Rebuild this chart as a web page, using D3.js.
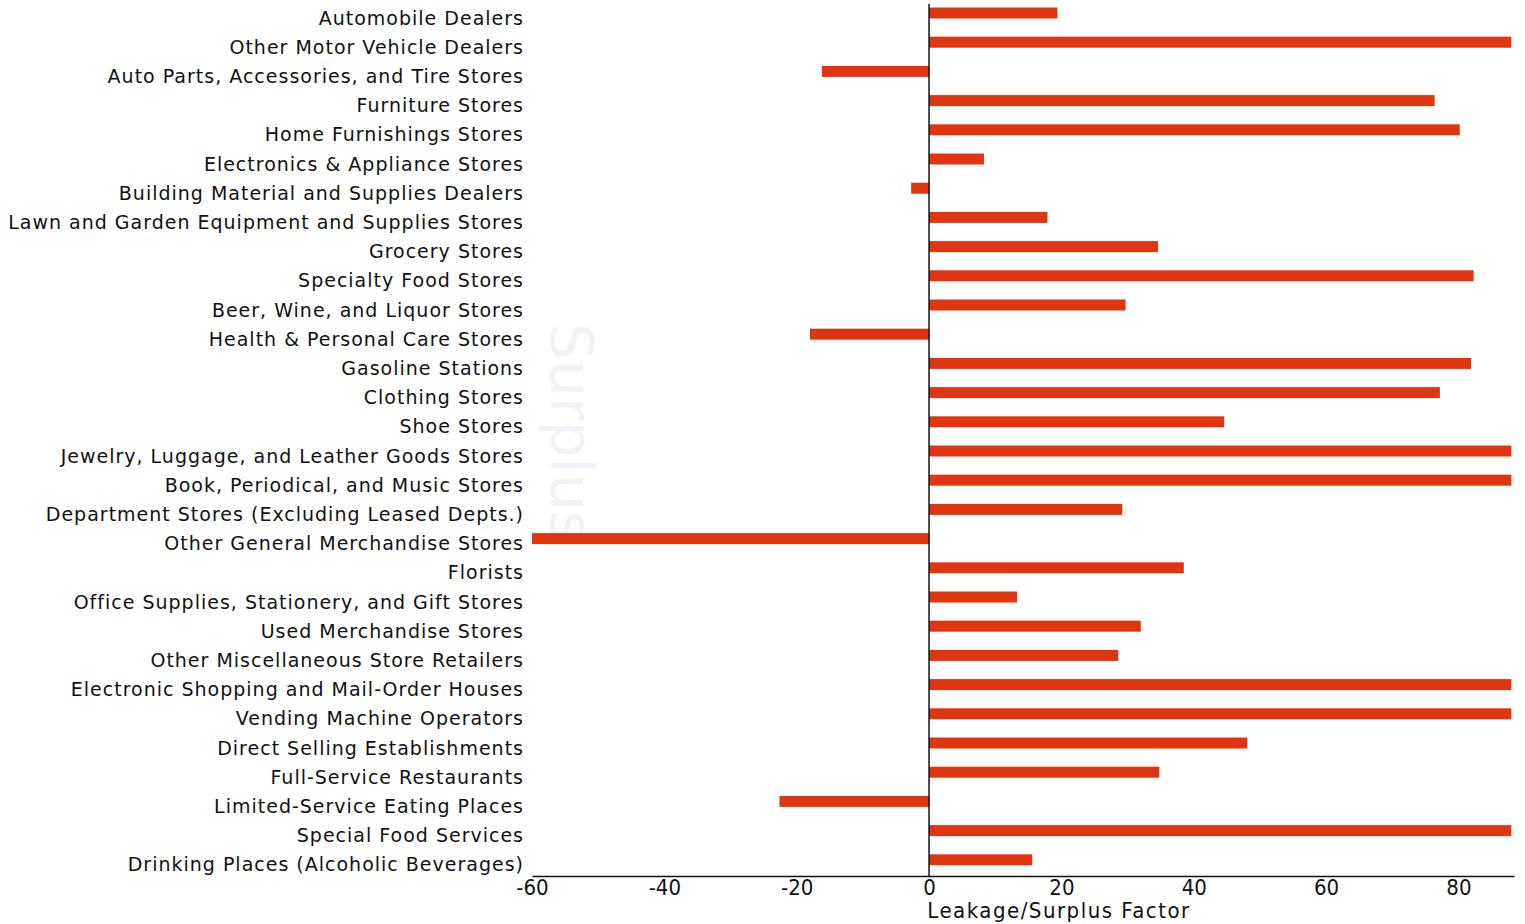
<!DOCTYPE html>
<html>
<head>
<meta charset="utf-8">
<script src="https://cdn.jsdelivr.net/npm/d3@7"></script>
<style>
  body { margin: 0; background: #fff; }
  svg { display: block; }
</style>
</head>
<body>
<script>
const w = 1525
const h = 924

const categories = [
	"Automobile Dealers",
	"Other Motor Vehicle Dealers",
	"Auto Parts, Accessories, and Tire Stores",
	"Furniture Stores",
	"Home Furnishings Stores",
	"Electronics & Appliance Stores",
	"Building Material and Supplies Dealers",
	"Lawn and Garden Equipment and Supplies Stores",
	"Grocery Stores",
	"Specialty Food Stores",
	"Beer, Wine, and Liquor Stores",
	"Health & Personal Care Stores",
	"Gasoline Stations",
	"Clothing Stores",
	"Shoe Stores",
	"Jewelry, Luggage, and Leather Goods Stores",
	"Book, Periodical, and Music Stores",
	"Department Stores (Excluding Leased Depts.)",
	"Other General Merchandise Stores",
	"Florists",
	"Office Supplies, Stationery, and Gift Stores",
	"Used Merchandise Stores",
	"Other Miscellaneous Store Retailers",
	"Electronic Shopping and Mail-Order Houses",
	"Vending Machine Operators",
	"Direct Selling Establishments",
	"Full-Service Restaurants",
	"Limited-Service Eating Places",
	"Special Food Services",
	"Drinking Places (Alcoholic Beverages)"
]

const factors = [
	19.4, 88, -16.2, 76.4, 80.2, 8.3, -2.7, 17.9, 34.6, 82.3,
	29.7, -18.0, 81.9, 77.2, 44.6, 88, 88, 29.2, -60, 38.5,
	13.3, 32.0, 28.6, 88, 88, 48.1, 34.8, -22.6, 88, 15.6
]

const xTicks = [-60, -40, -20, 0, 20, 40, 60, 80]

const data = categories.map((c, i) => ({ name: c, value: factors[i] }))

const svg = d3.select("body")
	.append("svg")
	.attr("width", w)
	.attr("height", h)

let xScale = d3.scaleLinear()
	.domain([-60, 88.4])
	.range([532, 1514])

let yScale = d3.scaleBand()
	.domain(categories)
	.range([-1.6, 874.4])

const axisY = 876
const barH = 11

// faint scan watermark
svg.append("text")
	.attr("transform", "translate(567, 432) rotate(90)")
	.attr("text-anchor", "middle")
	.attr("dominant-baseline", "middle")
	.attr("font-family", "DejaVu Sans")
	.attr("font-size", 58)
	.attr("fill", "#f2f1f8")
	.text("Surplus")

// bars
svg.selectAll("rect.bar")
	.data(data)
	.enter()
	.append("rect")
	.attr("class", "bar")
	.attr("x", d => xScale(Math.min(0, d.value)))
	.attr("y", d => yScale(d.name) + yScale.bandwidth() / 2 - barH / 2)
	.attr("width", d => Math.abs(xScale(d.value) - xScale(0)))
	.attr("height", barH)
	.attr("fill", "#df3511")

// category labels
svg.selectAll("text.cat")
	.data(data)
	.enter()
	.append("text")
	.attr("class", "cat")
	.attr("x", 524)
	.attr("y", d => yScale(d.name) + yScale.bandwidth() / 2 + 6)
	.attr("text-anchor", "end")
	.attr("dominant-baseline", "middle")
	.attr("font-family", "DejaVu Sans")
	.attr("font-size", 19)
	.attr("letter-spacing", 1)
	.attr("fill", "#111")
	.text(d => d.name)

// zero line
svg.append("line")
	.attr("x1", xScale(0))
	.attr("x2", xScale(0))
	.attr("y1", 4)
	.attr("y2", axisY)
	.attr("stroke", "#111")
	.attr("stroke-width", 1.5)

// x axis
let xAxis = d3.axisBottom(xScale)
	.tickValues(xTicks)
	.tickFormat(d => String(d))
	.tickSize(0)
	.tickPadding(3)

let gx = svg.append("g")
	.attr("transform", "translate(0, " + axisY + ")")
	.call(xAxis)

gx.select(".domain")
	.attr("stroke", "#111")
	.attr("stroke-width", 1.5)

gx.selectAll(".tick text")
	.attr("font-family", "DejaVu Sans Condensed")
	.attr("font-size", 22)
	.attr("fill", "#111")

svg.append("text")
	.attr("x", 1059)
	.attr("y", 918)
	.attr("text-anchor", "middle")
	.attr("font-family", "DejaVu Sans Condensed")
	.attr("font-size", 22)
	.attr("letter-spacing", 1.5)
	.attr("fill", "#111")
	.text("Leakage/Surplus Factor")
</script>
</body>
</html>
